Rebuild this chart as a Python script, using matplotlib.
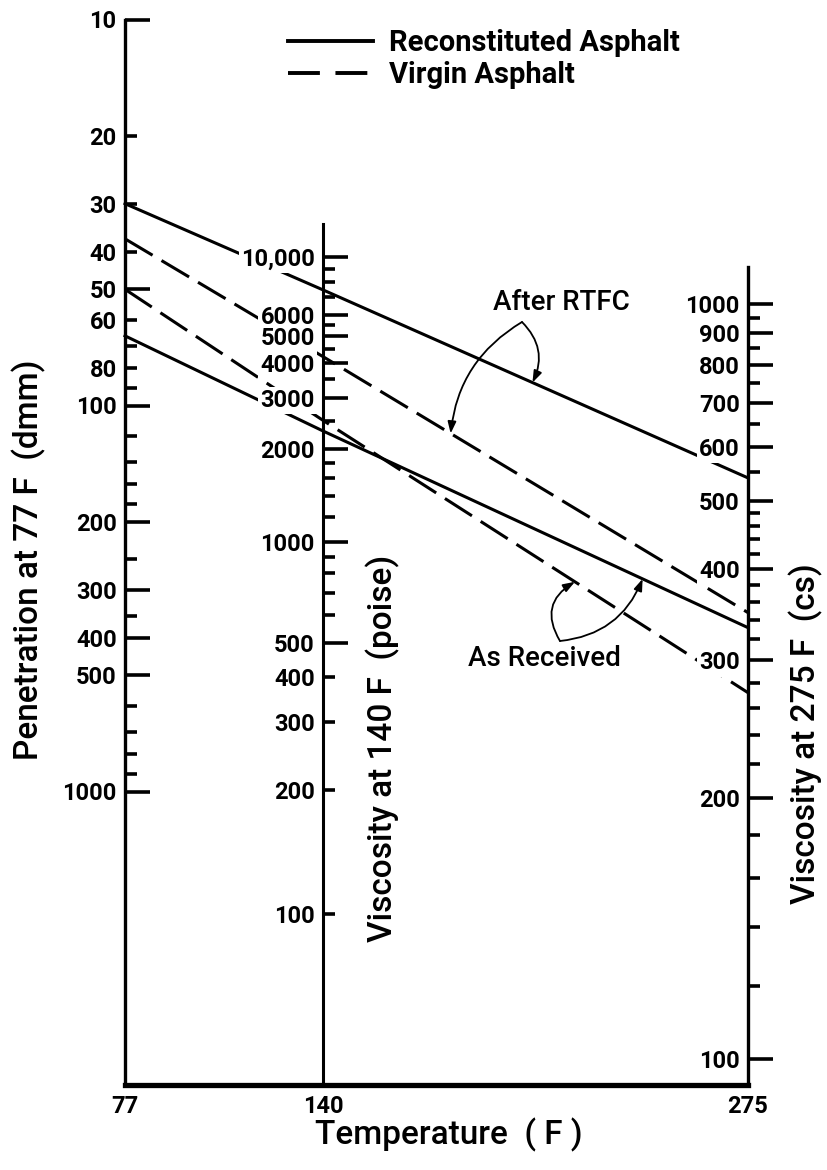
import numpy as np
import matplotlib
matplotlib.use("Agg")
import matplotlib.pyplot as plt
from matplotlib.lines import Line2D
from matplotlib.ticker import FixedLocator, FuncFormatter

# ---------------- data ----------------
temperatures = [77, 140, 275]
materials = ["Reconstituted Asphalt", "Virgin Asphalt"]
series_material = ["Reconstituted Asphalt", "Reconstituted Asphalt",
                   "Virgin Asphalt", "Virgin Asphalt"]
series_condition = ["As Received", "After RTFC", "As Received", "After RTFC"]
pen_77 = [66, 30, 50, 37]            # penetration at 77 F (dmm)
visc_140 = [2300, 7450, 2500, 4200]  # viscosity at 140 F (poise)
visc_275 = [332, 540, 272, 348]      # viscosity at 275 F (cs)

pen_labeled = [10, 20, 30, 40, 50, 60, 80, 100, 200, 300, 400, 500, 1000]
pen_long = [10, 50, 100, 200, 300, 400, 500, 1000]
pen_unlabeled = [70, 90, 120, 140, 160, 180, 250, 350, 600, 700, 800, 900]

v140_labeled = [10000, 6000, 5000, 4000, 3000, 2000, 1000, 500, 400, 300, 200, 100]
v140_long = [10000, 6000, 5000, 4000, 3000, 2000, 1000, 500]
v140_unlabeled = [9000, 8000, 7000, 5500, 4500, 3500, 2500, 1800, 1600, 1400,
                  1200, 900, 800, 700, 600]

v275_labeled = [1000, 900, 800, 700, 600, 500, 400, 300, 200, 100]
v275_long = [1000, 900, 800, 700, 600, 500, 400, 300, 200, 100]
v275_unlabeled = [950, 850, 750, 650, 550, 480, 460, 440, 420, 380, 360, 340,
                  320, 280, 260, 240, 220, 180, 160, 140, 120]

# ---------------- styles / layout ----------------
plt.rcParams['font.family'] = ['Roboto', 'DejaVu Sans']
plt.rcParams['font.weight'] = 'bold'
W, H = 827, 1170
X77, X275 = 125, 748
Y_TOP, Y_BOT = 19.5, 1085
LW = 2.2
TICK_FS = 17
line_style = {"Reconstituted Asphalt": '-', "Virgin Asphalt": (0, (10.5, 3.4))}

# nomograph scale geometry (figure pixel rows)
PEN_A, PEN_B = 19.5, 386.0
V140_A, V140_B, V140_C = 2170.0, 2808.0, 0.8
V275_A, V275_B = 2348.5, 4285.0


def pen_to_px(p):
    p = np.clip(np.asarray(p, float), 1e-3, None)
    return PEN_A + PEN_B * (np.log10(p) - 1)


def px_to_pen(px):
    px = np.clip(np.asarray(px, float), -3000, 6000)
    return 10 ** (1 + (px - PEN_A) / PEN_B)


def v140_to_px(v):
    L = np.log10(np.clip(np.asarray(v, float), 1.0, None))
    return V140_A - V140_B * np.log10(L + V140_C)


def px_to_v140(px):
    px = np.clip(np.asarray(px, float), -500, 2000)
    return 10 ** (10 ** ((V140_A - px) / V140_B) - V140_C)


def v275_to_px(v):
    L = np.log10(np.clip(np.asarray(v, float), 1.0001, None))
    return V275_A - V275_B * np.log10(L)


def px_to_v275(px):
    px = np.clip(np.asarray(px, float), -500, 2000)
    return 10 ** (10 ** ((V275_A - px) / V275_B))


fwd140 = lambda p: px_to_v140(pen_to_px(p))
inv140 = lambda v: px_to_pen(v140_to_px(v))
fwd275 = lambda p: px_to_v275(pen_to_px(p))
inv275 = lambda v: px_to_pen(v275_to_px(v))

fig = plt.figure(figsize=(W / 100, H / 100), dpi=100)
ax = fig.add_axes([X77 / W, 1 - Y_BOT / H, (X275 - X77) / W, (Y_BOT - Y_TOP) / H])
ax.set_xlim(temperatures[0], temperatures[-1])
ax.set_yscale('log')
P_bottom = float(px_to_pen(Y_BOT))
ax.set_ylim(P_bottom, 10)
ax.patch.set_visible(False)

for s in ('top', 'right'):
    ax.spines[s].set_visible(False)
ax.spines['left'].set_linewidth(2.4)
ax.spines['bottom'].set_linewidth(3.8)
ax.spines['bottom'].set_capstyle('projecting')

ax.set_xticks(temperatures)
ax.set_xticklabels([str(t) for t in temperatures])
ax.tick_params(axis='x', length=0, pad=7, labelsize=TICK_FS)


def series_positions(i):
    return [pen_77[i], float(inv140(visc_140[i])), float(inv275(visc_275[i]))]


for i in range(len(pen_77)):
    ax.plot(temperatures, series_positions(i), color='k', lw=LW,
            linestyle=line_style[series_material[i]], zorder=2, clip_on=False,
            dash_capstyle='butt')


def fmt(v):
    v = int(round(v))
    return f"{v:,}" if v >= 10000 else str(v)


def configure(owner, long_vals, labeled, unlabeled):
    ya = owner.yaxis
    ya.set_major_locator(FixedLocator(long_vals))
    minor = [v for v in labeled if v not in long_vals] + unlabeled
    ya.set_minor_locator(FixedLocator(minor))
    ya.set_major_formatter(FuncFormatter(lambda v, p: fmt(v)))
    lab = list(labeled)
    ya.set_minor_formatter(FuncFormatter(
        lambda v, p: fmt(v) if any(abs(v - l) < 1e-6 * l for l in lab) else ''))
    owner.tick_params(axis='y', which='major', direction='in', length=18, width=2.6,
                      pad=6, labelsize=TICK_FS, left=True, right=False,
                      labelleft=True, labelright=False)
    owner.tick_params(axis='y', which='minor', direction='in', length=8.5, width=2.6,
                      pad=6, labelsize=TICK_FS, left=True, right=False,
                      labelleft=True, labelright=False)


sec140 = ax.secondary_yaxis(140, functions=(fwd140, inv140), transform=ax.transData)
sec275 = ax.secondary_yaxis(275, functions=(fwd275, inv275), transform=ax.transData)
for sec in (sec140, sec275):
    sec.set_alignment('left')
    sec.set_zorder(3)
    sec.patch.set_visible(False)
sec140.spines['left'].set_linewidth(2.2)
sec275.spines['left'].set_linewidth(2.4)


def configure_all():
    configure(ax, pen_long, pen_labeled, pen_unlabeled)
    configure(sec140, v140_long, v140_labeled, v140_unlabeled)
    configure(sec275, v275_long, v275_labeled, v275_unlabeled)
    sec140.spines['left'].set_bounds(float(fwd140(P_bottom)), 13600)
    sec275.spines['left'].set_bounds(float(fwd275(P_bottom)), 1150)


configure_all()
fig.canvas.draw()
configure_all()
fig.canvas.draw()
for sec in (sec140, sec275):
    for t in sec.yaxis.get_major_ticks() + sec.yaxis.get_minor_ticks():
        t.label1.set_bbox(dict(facecolor='white', edgecolor='none', pad=1.5))

# ---------------- legend ----------------
handles = [Line2D([], [], color='k', lw=2.8, linestyle='-'),
           Line2D([], [], color='k', lw=2.8, linestyle=(0, (8.2, 4.0)))]
fig.legend(handles, materials, loc='upper left', bbox_to_anchor=(288 / W, 1 - 29 / H),
           frameon=False, fontsize=21, handlelength=2.9, handletextpad=0.55,
           labelspacing=0.15, borderpad=0, borderaxespad=0)

# ---------------- axis titles ----------------
TITLE_FS = 24
fig.text(29 / W, 1 - 560 / H, "Penetration at 77 F  (dmm)", rotation=90,
         ha='center', va='center', fontsize=TITLE_FS, fontweight='medium')
fig.text(383 / W, 1 - 748 / H, "Viscosity at 140 F  (poise)", rotation=90,
         ha='center', va='center', fontsize=TITLE_FS, fontweight='medium')
fig.text(806 / W, 1 - 734 / H, "Viscosity at 275 F  (cs)", rotation=90,
         ha='center', va='center', fontsize=TITLE_FS, fontweight='medium')
fig.text(449 / W, 1 - 1135 / H, "Temperature  ( F )", ha='center', va='center',
         fontsize=TITLE_FS, fontweight='medium')


# ---------------- annotations ----------------
def px_to_data(x, y):
    T = temperatures[0] + (x - X77) / (X275 - X77) * (temperatures[-1] - temperatures[0])
    return (T, float(px_to_pen(y)))


def on_series(i, T):
    s = np.log10(series_positions(i))
    return (T, float(10 ** np.interp(T, temperatures, s)))


arrow = dict(arrowstyle='-|>,head_length=0.7,head_width=0.25', lw=1.3, color='k',
             shrinkA=0, shrinkB=0)
ax.text(*px_to_data(561, 302), "After RTFC", ha='center', va='center', fontsize=20,
        fontweight='medium')
ax.annotate('', xy=on_series(1, 206.5), xytext=px_to_data(522, 322),
            arrowprops=dict(arrow, connectionstyle='arc3,rad=-0.35'))
ax.annotate('', xy=on_series(3, 180.5), xytext=px_to_data(522, 322),
            arrowprops=dict(arrow, connectionstyle='arc3,rad=0.25'))

ax.text(*px_to_data(544, 659), "As Received", ha='center', va='center', fontsize=20,
        fontweight='medium')
ax.annotate('', xy=on_series(2, 220), xytext=px_to_data(560, 641),
            arrowprops=dict(arrow, connectionstyle='arc3,rad=-0.5'))
ax.annotate('', xy=on_series(0, 241.5), xytext=px_to_data(560, 641),
            arrowprops=dict(arrow, connectionstyle='arc3,rad=0.3'))

fig.savefig("out.png", dpi=100)
